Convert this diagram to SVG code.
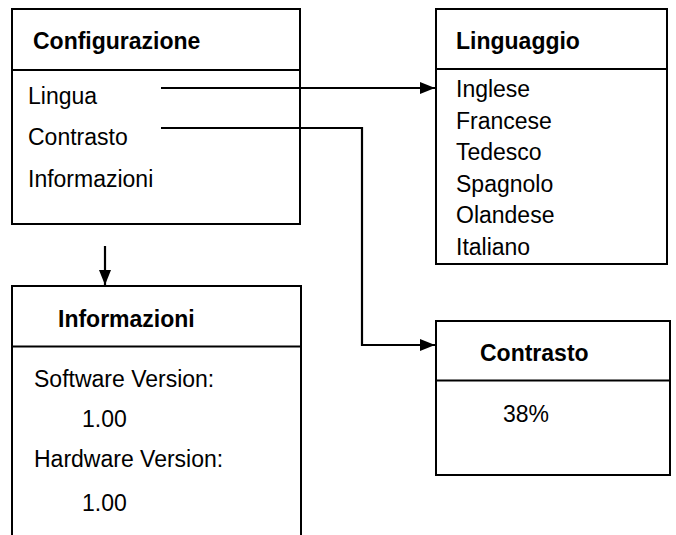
<svg xmlns="http://www.w3.org/2000/svg" width="676" height="535" viewBox="0 0 676 535">
<style>
.box{fill:#fff;stroke:#000;stroke-width:2}
.div{stroke:#000;stroke-width:2}
.t{font-family:"Liberation Sans",Arial,sans-serif;font-size:23px;fill:#000}
.b{font-weight:bold}
.c{fill:none;stroke:#000;stroke-width:2.2}
</style>
<defs>
<marker id="arr" viewBox="0 0 15 12" refX="15" refY="6" markerWidth="15" markerHeight="12" markerUnits="userSpaceOnUse" orient="auto">
<path d="M0,0 L15,6 L0,12 Z" fill="#000"/>
</marker>
</defs>
<rect width="676" height="535" fill="#fff"/>
<g id="configurazione">
<rect class="box" x="12" y="9" width="288" height="215"/>
<line class="div" x1="12" y1="70" x2="300" y2="70"/>
<text class="t b" x="33" y="49">Configurazione</text>
<text class="t" x="28" y="104">Lingua</text>
<text class="t" x="28" y="145">Contrasto</text>
<text class="t" x="28" y="187">Informazioni</text>
</g>
<g id="linguaggio">
<rect class="box" x="436" y="9" width="231" height="255"/>
<line class="div" x1="436" y1="69" x2="667" y2="69"/>
<text class="t b" x="456" y="49">Linguaggio</text>
<text class="t" x="456" y="97">Inglese</text>
<text class="t" x="456" y="128.5">Francese</text>
<text class="t" x="456" y="160">Tedesco</text>
<text class="t" x="456" y="191.5">Spagnolo</text>
<text class="t" x="456" y="223">Olandese</text>
<text class="t" x="456" y="254.5">Italiano</text>
</g>
<g id="informazioni">
<rect class="box" x="12" y="286" width="289" height="260"/>
<line class="div" x1="12" y1="346.5" x2="301" y2="346.5"/>
<text class="t b" x="58" y="327">Informazioni</text>
<text class="t" x="34" y="387">Software Version:</text>
<text class="t" x="82" y="427">1.00</text>
<text class="t" x="34" y="467">Hardware Version:</text>
<text class="t" x="82" y="511">1.00</text>
</g>
<g id="contrasto">
<rect class="box" x="436" y="321" width="234" height="154"/>
<line class="div" x1="436" y1="380.5" x2="670" y2="380.5"/>
<text class="t b" x="480" y="361">Contrasto</text>
<text class="t" x="503" y="422">38%</text>
</g>
<g id="connectors">
<line class="c" x1="161" y1="88" x2="435" y2="88" marker-end="url(#arr)"/>
<polyline class="c" points="161,128 362,128 362,345 435,345" marker-end="url(#arr)"/>
<line class="c" x1="105" y1="246" x2="105" y2="285" marker-end="url(#arr)"/>
</g>
</svg>
